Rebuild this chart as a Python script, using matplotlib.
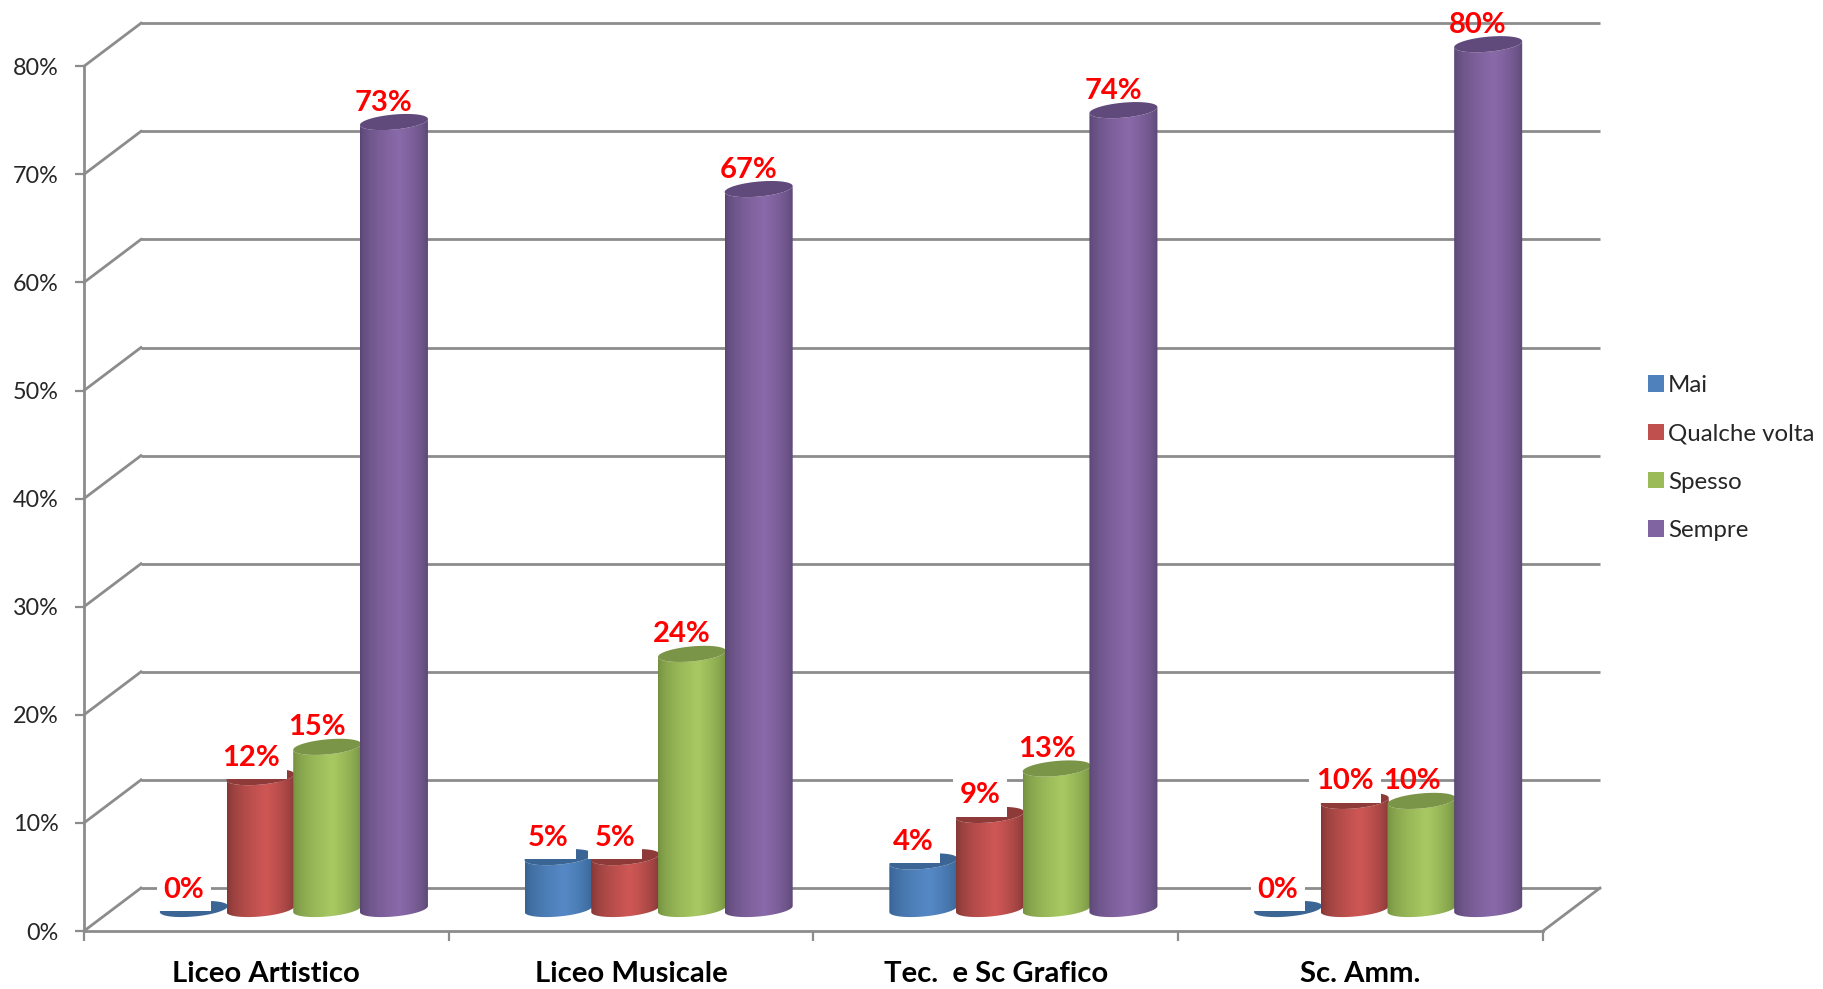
import numpy as np
import matplotlib
matplotlib.use("Agg")
import matplotlib.pyplot as plt
from matplotlib.patches import Patch, Polygon, Rectangle
from matplotlib.colors import to_rgb

categories = ["Liceo Artistico", "Liceo Musicale", "Tec.  e Sc Grafico", "Sc. Amm."]
series_names = ["Mai", "Qualche volta", "Spesso", "Sempre"]
mai = [0.0, 4.8, 4.4, 0.0]
qualche_volta = [12.2, 4.8, 8.7, 10.0]
spesso = [15.0, 23.6, 13.0, 10.0]
sempre = [72.8, 66.6, 73.9, 80.0]
y_ticks = [0, 10, 20, 30, 40, 50, 60, 70, 80]

series_values = [mai, qualche_volta, spesso, sempre]
legend_colors = ["#4f81bd", "#c0504d", "#9bbb59", "#8064a2"]
edge_colors = ["#35608f", "#7d3533", "#708c3e", "#574470"]
mid_colors = ["#5589c6", "#cf5755", "#a8c962", "#8a6aaa"]
top_colors = ["#3b6595", "#8e3a38", "#7a9448", "#604a7b"]
label_box = [True, True, False, False]

W, H = 1824, 989
PX_X = 364.75        # pixels per category
PX_Y = 10.81         # pixels per percentage point
X0, Y0 = 84, 931     # pixel position of the data origin
plt.rcParams["font.family"] = ["Lato", "DejaVu Sans"]

fig = plt.figure(figsize=(W / 100, H / 100), dpi=100, facecolor="white")
ax = fig.add_axes([0, 0, 1, 1])
ax.set_xlim(-X0 / PX_X, (W - X0) / PX_X)
ax.set_ylim((Y0 - H) / PX_Y, Y0 / PX_Y)
ax.set_autoscale_on(False)
ax.patch.set_visible(False)

GRID = "#8c8c8c"
LW = 2.0
DX = 57 / PX_X       # chart depth in category units
DY = 43 / PX_Y       # chart depth in value units

# back wall, side wall and floor
for v in y_ticks:
    ax.plot([DX, 4 + DX], [v + DY, v + DY], color=GRID, lw=LW, zorder=1,
            solid_capstyle="butt")
    ax.plot([0, DX], [v, v + DY], color=GRID, lw=LW, zorder=1)
ax.plot([4, 4 + DX], [0, DY], color=GRID, lw=LW, zorder=1)

for s in ["top", "right"]:
    ax.spines[s].set_visible(False)
for s in ["left", "bottom"]:
    ax.spines[s].set_color(GRID)
    ax.spines[s].set_linewidth(LW)
    ax.spines[s].set_position(("data", 0))
    ax.spines[s].set_zorder(1)
ax.spines["left"].set_bounds(0, 80)
ax.spines["bottom"].set_bounds(0, 4)

ax.set_yticks(y_ticks)
ax.set_yticklabels([f"{v}%" for v in y_ticks], fontsize=16.8, color="#262626")
ax.tick_params(axis="y", length=6.5, width=1.6, color=GRID, pad=11.5)
ax.set_xticks(range(5))
ax.set_xticklabels([""] * 5)
ax.tick_params(axis="x", which="major", length=7, width=1.6, color=GRID)
ax.set_xticks(np.arange(4) + 0.5, minor=True)
ax.set_xticklabels(categories, minor=True, fontsize=21.1, fontweight="bold", color="black")
ax.tick_params(axis="x", which="minor", length=0, pad=21.7)

# cylinders
BAR_STEP = 66.7 / PX_X
BAR_W = 68.0 / PX_X
A_X = BAR_W / 2
B_Y = 7.5 / PX_Y
SHEAR = (3.0 / PX_Y) / A_X
BASE_DX = (DX - 2 / PX_X) / 2
BASE_DY = 22 / PX_Y
t = np.linspace(0, 2 * np.pi, 121)
t_low = np.linspace(np.pi, 2 * np.pi, 61)


def arc(cx, cy, tt):
    xs = A_X * np.cos(tt)
    return cx + xs, cy + B_Y * np.sin(tt) + SHEAR * xs


def gradient(c_edge, c_mid):
    e, m = np.array(to_rgb(c_edge)), np.array(to_rgb(c_mid))
    u = np.linspace(0, 1, 256)
    w = np.where(u < 0.58, u / 0.58, (1 - u) / 0.42) ** 0.55
    return (e + (m - e) * w[:, None])[None, :, :]


for k, vals in enumerate(series_values):
    for g, v in enumerate(vals):
        cx = g + 0.5 + BASE_DX + (k - 1.5) * BAR_STEP
        base = BASE_DY
        top = base + v
        if v > 0:
            bx, by = arc(cx, base, t_low)
            tx, ty = arc(cx, top, t_low[::-1])
            body = Polygon(np.column_stack([np.r_[bx, tx], np.r_[by, ty]]), closed=True,
                           facecolor="none", edgecolor="none", zorder=2 + k)
            ax.add_patch(body)
            im = ax.imshow(gradient(edge_colors[k], mid_colors[k]), aspect="auto",
                           extent=[cx - A_X, cx + A_X, base - B_Y - 1, top + 1],
                           zorder=2 + k, interpolation="bilinear")
            im.set_clip_path(body)
        ex, ey = arc(cx, top, t)
        ax.fill(ex, ey, color=top_colors[k], lw=0, zorder=2 + k)
        label = f"{v:.0f}%"
        lx = cx - 10 / PX_X
        ax.text(lx, top + 19.5 / PX_Y, label, color="#ff0000", fontsize=21,
                fontweight="bold", ha="center", va="center", zorder=12)
        if label_box[k]:
            half = (9 + 18.0 * (len(label) - 1) / 2 + 9) / PX_X
            ax.add_patch(Rectangle((lx - half, top - 2 / PX_Y), 2 * half, 44 / PX_Y,
                                   facecolor="white", edgecolor="none", zorder=11))

handles = [Patch(facecolor=c, edgecolor="none") for c in legend_colors]
ax.legend(handles, series_names, loc="upper left", bbox_to_anchor=(1648 / W, 1 - 375 / H),
          frameon=False, fontsize=17.3, handlelength=0.67, handleheight=0.67,
          handletextpad=0.17, labelspacing=1.135, borderpad=0, borderaxespad=0,
          labelcolor="#262626")

ax.set_xlim(-X0 / PX_X, (W - X0) / PX_X)
ax.set_ylim((Y0 - H) / PX_Y, Y0 / PX_Y)
fig.savefig("out.png", dpi=100)
